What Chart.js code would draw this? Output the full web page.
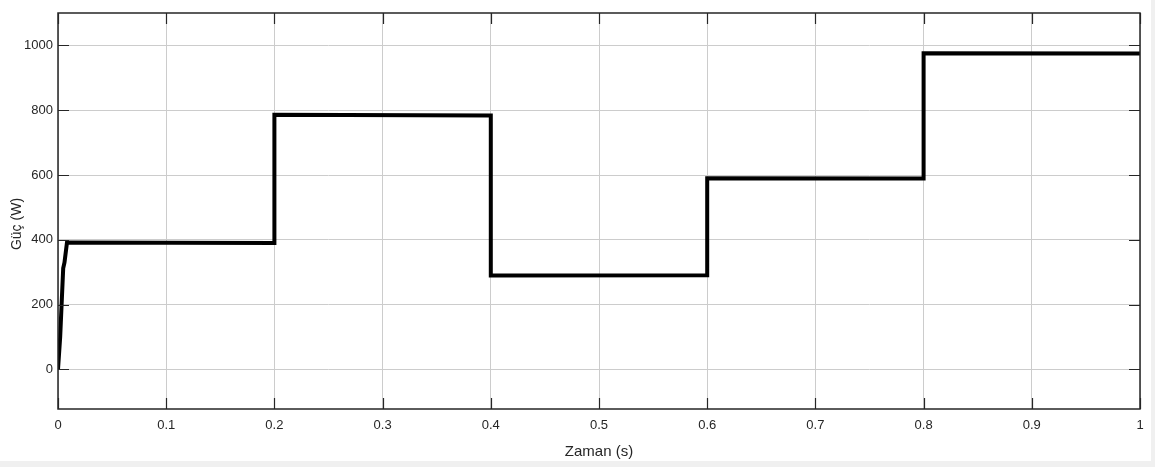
<!DOCTYPE html>
<html lang="tr">
<head>
<meta charset="UTF-8">
<title>Güç - Zaman</title>
<script src="https://cdn.jsdelivr.net/npm/chart.js"></script>
<style>
  body { margin: 0; background: #f0f0f0; }
  #wrap { width: 1155px; height: 467px; }
</style>
</head>
<body>
<div id="wrap"><canvas id="powerChart" width="1155" height="467"></canvas></div>
<script>
// zaman (s) ve güç (W) - basamak şeklinde yük profili
const timeS  = [0, 0.002, 0.0048, 0.006, 0.0083, 0.2, 0.2, 0.4, 0.4, 0.6, 0.6, 0.8, 0.8, 1.0];
const powerW = [0, 100, 312, 330, 392, 390, 786, 784, 290, 291, 590, 589, 976, 975];

const xTicks = [0, 0.1, 0.2, 0.3, 0.4, 0.5, 0.6, 0.7, 0.8, 0.9, 1];
const yTicks = [0, 200, 400, 600, 800, 1000];

const axisColor = '#262626';
const tickFont = { family: "'Liberation Sans Narrow', 'Arial Narrow', 'Liberation Sans', sans-serif", size: 13 };

// arka plan, kutu ve içe dönük tick işaretleri
const frame = {
  id: 'frame',
  beforeDraw(chart) {
    const c = chart.ctx;
    c.save();
    c.fillStyle = '#f0f0f0';
    c.fillRect(0, 0, chart.width, chart.height);
    c.fillStyle = '#ffffff';
    c.fillRect(0, 0, 1151, 461);
    c.restore();
  },
  afterDraw(chart) {
    const c = chart.ctx;
    const a = chart.chartArea;
    const xs = chart.scales.x, ys = chart.scales.y;
    const len = 11;
    c.save();
    c.strokeStyle = axisColor;
    c.lineWidth = 1.5;
    c.strokeRect(a.left, a.top, a.right - a.left, a.bottom - a.top);
    c.lineWidth = 1.2;
    c.beginPath();
    xTicks.forEach(v => {
      const px = Math.round(xs.getPixelForValue(v)) + 0.5;
      c.moveTo(px, a.bottom); c.lineTo(px, a.bottom - len);
      c.moveTo(px, a.top); c.lineTo(px, a.top + len);
    });
    yTicks.forEach(v => {
      const py = Math.round(ys.getPixelForValue(v)) + 0.5;
      c.moveTo(a.left, py); c.lineTo(a.left + len, py);
      c.moveTo(a.right, py); c.lineTo(a.right - len, py);
    });
    c.stroke();

    // y ekseni başlığı
    c.fillStyle = axisColor;
    c.font = "14px 'Liberation Sans', Arial, sans-serif";
    c.textAlign = 'center';
    c.textBaseline = 'middle';
    c.translate(17, (a.top + a.bottom) / 2 + 13);
    c.rotate(-Math.PI / 2);
    c.fillText('Güç (W)', 0, 0);
    c.restore();
  }
};

new Chart(document.getElementById('powerChart'), {
  type: 'line',
  data: {
    datasets: [{
      data: timeS.map((t, i) => ({ x: t, y: powerW[i] })),
      borderColor: '#000000',
      borderWidth: 4,
      pointRadius: 0,
      tension: 0,
      fill: false
    }]
  },
  options: {
    responsive: false,
    animation: false,
    devicePixelRatio: 1,
    layout: { padding: { top: 13, right: 15, left: 0, bottom: 0 } },
    plugins: { legend: { display: false }, tooltip: { enabled: false } },
    scales: {
      x: {
        type: 'linear',
        min: 0,
        max: 1,
        afterBuildTicks: s => { s.ticks = xTicks.map(v => ({ value: v })); },
        afterFit: s => { s.height = 58; },
        grid: { color: '#cccccc', lineWidth: 1, drawTicks: false },
        border: { display: false },
        ticks: {
          color: axisColor,
          font: tickFont,
          padding: 9,
          maxRotation: 0,
          autoSkip: false,
          callback: v => String(v)
        },
        title: {
          display: true,
          text: 'Zaman (s)',
          color: axisColor,
          font: { family: "'Liberation Sans Narrow', 'Arial Narrow', 'Liberation Sans', sans-serif", size: 15 },
          padding: { top: 0, bottom: 6 }
        }
      },
      y: {
        min: -122,
        max: 1100,
        afterBuildTicks: s => { s.ticks = yTicks.map(v => ({ value: v })); },
        afterFit: s => { s.width = 58; },
        grid: { color: '#cccccc', lineWidth: 1, drawTicks: false },
        border: { display: false },
        ticks: {
          color: axisColor,
          font: tickFont,
          padding: 5,
          autoSkip: false,
          callback: v => String(v)
        }
      }
    }
  },
  plugins: [frame]
});
</script>
</body>
</html>
